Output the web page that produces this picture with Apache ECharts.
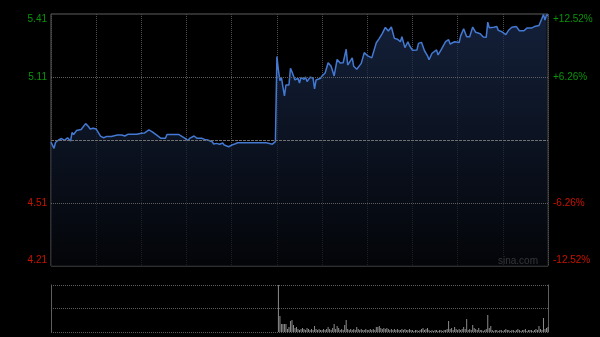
<!DOCTYPE html>
<html>
<head>
<meta charset="utf-8">
<script src="https://cdn.jsdelivr.net/npm/echarts@6/dist/echarts.min.js"></script>
<style>
html,body{margin:0;padding:0;background:#000;}
#c{width:600px;height:337px;}
</style>
</head>
<body>
<div id="c"></div>
<script>
// minute index from 9:30 (0..330, lunch break collapsed)
const minutes = [0,2,3,5,7,9,11,13,14,15,17,18,20,23,25,26,28,30,31,33,35,37,38,40,44,47,49,51,57,60,62,65,67,70,73,76,77,85,86,89,91,92,95,97,100,102,104,107,108,110,112,114,115,116,118,120,122,124,136,137,138,143,144,147,149,
150,151,152,153,154,155,156,158,159,160,161,162,164,165,166,168,169,170,172,174,175,176,179,180,182,184,186,188,190,192,194,196,197,200,201,203,206,208,210,213,216,218,220,222,224,226,228,230,232,233,235,237,238,240,243,244,246,248,250,251,253,254,256,257,259,260,262,264,265,268,271,272,274,276,278,280,282,285,287,289,290,291,294,296,297,299,302,304,306,309,311,314,316,319,321,324,326,327,328,329,330];
const prices = [4.800,4.770,4.798,4.810,4.817,4.808,4.821,4.805,4.846,4.836,4.855,4.853,4.860,4.888,4.873,4.862,4.866,4.862,4.855,4.827,4.821,4.827,4.821,4.827,4.834,4.834,4.829,4.837,4.837,4.842,4.843,4.858,4.850,4.834,4.818,4.818,4.836,4.836,4.827,4.818,4.807,4.818,4.829,4.818,4.818,4.813,4.810,4.802,4.791,4.794,4.790,4.796,4.786,4.778,4.778,4.786,4.791,4.797,4.797,4.791,4.797,4.797,4.790,4.790,4.802,
5.207,5.143,5.093,5.108,5.062,5.020,5.072,5.072,5.151,5.135,5.143,5.096,5.104,5.081,5.108,5.099,5.110,5.088,5.109,5.105,5.053,5.096,5.104,5.115,5.129,5.178,5.161,5.115,5.194,5.177,5.178,5.242,5.167,5.201,5.161,5.147,5.175,5.226,5.212,5.201,5.273,5.294,5.318,5.346,5.329,5.348,5.294,5.290,5.278,5.302,5.250,5.278,5.260,5.237,5.239,5.270,5.275,5.235,5.211,5.192,5.223,5.215,5.239,5.215,5.239,5.241,5.278,5.288,5.267,5.278,5.274,5.306,5.340,5.302,5.302,5.348,5.323,5.316,5.300,5.299,5.371,5.344,5.347,5.350,5.332,5.327,5.312,5.334,5.347,5.350,5.330,5.330,5.343,5.343,5.350,5.355,5.390,5.408,5.381,5.405,5.403];

// afternoon volume, one value per minute starting at minute 151
const volStart = 151;
const volumes = [47,16,8,8,8,8,3,5,11,12,7,4,5,3,2,3,4,3,2,4,3,2,3,2,6,3,2,3,2,2,3,2,3,5,3,2,4,8,3,6,4,2,3,2,7,12,3,2,3,2,3,2,5,3,2,3,2,2,3,2,2,3,2,3,2,5,5,6,4,3,4,3,4,3,2,3,2,3,2,3,2,2,3,2,3,2,2,3,2,2,1,2,2,1,2,3,4,2,3,4,2,1,2,1,2,2,1,2,2,1,2,2,3,11,3,4,2,5,3,2,3,2,3,5,3,13,2,3,2,7,4,3,2,4,2,2,1,2,3,17,4,6,2,1,2,2,1,2,2,1,2,3,2,2,1,2,2,1,2,3,2,1,2,2,3,1,2,2,2,1,2,3,2,6,3,2,14,3,4,5];

const prevClose = 4.81;
const priceTicks = [4.21, 4.51, 5.11, 5.41];
const pctTicks = [-12.52, -6.26, 6.26, 12.52];
const priceMin = 4.21, priceMax = 5.41;
const pctMin = -12.52, pctMax = 12.52;
const volMax = 47;

const priceData = minutes.map((m, i) => [m, prices[i]]);
const volData = volumes.map((v, i) => [volStart + i, v]);

const GREEN = '#099409', RED = '#cc1100';
const FONT = 'Liberation Sans, Arial, sans-serif';
const dotted = {color: '#4e4e4e', type: [1, 1], width: 1};

const chart = echarts.init(document.getElementById('c'), null, {renderer: 'canvas'});
chart.setOption({
  backgroundColor: '#000',
  animation: false,
  grid: [
    {left: 51, top: 14, width: 497, height: 252, show: true, borderColor: '#5e5e5e', borderWidth: 1, backgroundColor: 'transparent'},
    {left: 51, top: 285, width: 497, height: 47, show: false}
  ],
  xAxis: [
    {type: 'value', gridIndex: 0, min: 0, max: 330, interval: 30,
     axisLine: {show: false}, axisTick: {show: false}, axisLabel: {show: false},
     splitLine: {show: true, lineStyle: dotted}},
    {type: 'value', gridIndex: 1, min: 0, max: 330, interval: 330,
     axisLine: {show: false}, axisTick: {show: false}, axisLabel: {show: false},
     splitLine: {show: false}}
  ],
  yAxis: [
    {type: 'value', gridIndex: 0, min: priceMin, max: priceMax, position: 'left',
     axisLine: {show: false}, axisTick: {show: false}, splitLine: {show: false},
     axisLabel: {show: true, customValues: priceTicks, margin: 4, fontSize: 10, fontFamily: FONT,
       formatter: v => {
         const s = v.toFixed(2);
         if (Math.abs(v - priceMax) < 1e-6) return '{t|' + s + '}';
         if (Math.abs(v - priceMin) < 1e-6) return '{b|' + s + '}';
         return s;
       },
       color: v => (v > prevClose ? GREEN : RED),
       rich: {t: {padding: [10, 0, 0, 0], fontSize: 10, fontFamily: FONT},
              b: {padding: [0, 0, 12, 0], fontSize: 10, fontFamily: FONT}}
     }},
    {type: 'value', gridIndex: 0, min: pctMin, max: pctMax, position: 'right',
     axisLine: {show: false}, axisTick: {show: false}, splitLine: {show: false},
     axisLabel: {show: true, customValues: pctTicks, margin: 5, fontSize: 10, fontFamily: FONT,
       formatter: v => {
         const s = (v > 0 ? '+' : '') + v.toFixed(2) + '%';
         if (Math.abs(v - pctMax) < 1e-6) return '{t|' + s + '}';
         if (Math.abs(v - pctMin) < 1e-6) return '{b|' + s + '}';
         return s;
       },
       color: v => (v > 0 ? GREEN : RED),
       rich: {t: {padding: [10, 0, 0, 0], fontSize: 10, fontFamily: FONT},
              b: {padding: [0, 0, 12, 0], fontSize: 10, fontFamily: FONT}}
     }},
    {type: 'value', gridIndex: 1, min: 0, max: volMax, interval: volMax / 2, position: 'left',
     axisLine: {show: true, lineStyle: {color: '#5e5e5e'}}, axisTick: {show: false}, axisLabel: {show: false},
     splitLine: {show: true, lineStyle: {color: '#5e5e5e', type: [1, 1]}}},
    {type: 'value', gridIndex: 1, min: 0, max: volMax, position: 'right',
     axisLine: {show: true, lineStyle: {color: '#5e5e5e'}}, axisTick: {show: false}, axisLabel: {show: false},
     splitLine: {show: false}}
  ],
  graphic: [
    {type: 'text', left: 498, top: 256, silent: true,
     style: {text: 'sina.com', fill: '#9a9a9a', font: '10px ' + FONT}}
  ],
  series: [
    {type: 'line', xAxisIndex: 0, yAxisIndex: 0, data: priceData, showSymbol: false, symbol: 'none',
     lineStyle: {color: '#4379d2', width: 1.5},
     areaStyle: {origin: 'start', color: new echarts.graphic.LinearGradient(0, 0, 0, 1, [
       {offset: 0, color: '#1c2e52'}, {offset: 1, color: '#05070c'}])},
     markLine: {silent: true, symbol: 'none', label: {show: false}, animation: false,
       data: [
         {yAxis: 5.11, lineStyle: {color: '#5e5e5e', type: [1, 1], width: 1}},
         {yAxis: 4.51, lineStyle: {color: '#5e5e5e', type: [1, 1], width: 1}},
         {yAxis: prevClose, lineStyle: {color: '#707070', type: [3, 1], width: 1}}
       ]},
     z: 3},
    {type: 'bar', xAxisIndex: 1, yAxisIndex: 2, data: volData, barWidth: 1,
     itemStyle: {color: '#8c8c8c'}, z: 3}
  ]
});
</script>
</body>
</html>
